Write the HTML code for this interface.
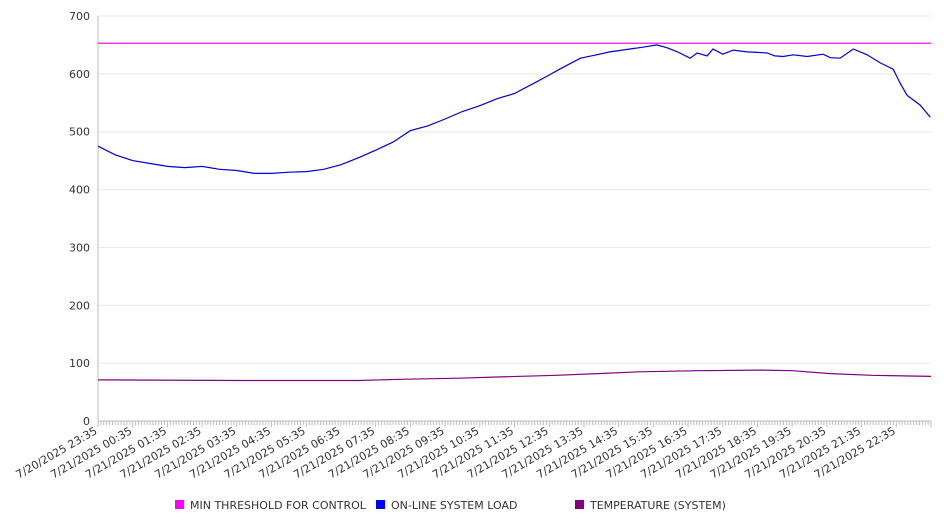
<!DOCTYPE html>
<html><head><meta charset="utf-8"><style>
body{margin:0;background:#fff;font-family:"DejaVu Sans","Liberation Sans",sans-serif}
svg text{font-family:"DejaVu Sans","Liberation Sans",sans-serif;font-size:11px;fill:#333}
</style></head><body>
<svg id="chart" width="946" height="526" xmlns="http://www.w3.org/2000/svg"></svg>
<script>
const yTicks=[0,100,200,300,400,500,600,700];
const xLabels=["7/20/2025 23:35","7/21/2025 00:35","7/21/2025 01:35","7/21/2025 02:35","7/21/2025 03:35","7/21/2025 04:35","7/21/2025 05:35","7/21/2025 06:35","7/21/2025 07:35","7/21/2025 08:35","7/21/2025 09:35","7/21/2025 10:35","7/21/2025 11:35","7/21/2025 12:35","7/21/2025 13:35","7/21/2025 14:35","7/21/2025 15:35","7/21/2025 16:35","7/21/2025 17:35","7/21/2025 18:35","7/21/2025 19:35","7/21/2025 20:35","7/21/2025 21:35","7/21/2025 22:35"];
const threshold=653;
// time in hours since 7/20 23:35
const loadHours=[0,0.5,1,1.5,2,2.5,3,3.5,4,4.5,5,5.5,6,6.5,7,7.5,8,8.5,9,9.5,10,10.5,11,11.5,12,12.5,13,13.3,13.9,14.3,14.75,15.2,15.7,16.1,16.4,16.7,17.06,17.26,17.55,17.72,18.0,18.3,18.7,19.0,19.28,19.5,19.74,20.03,20.43,20.89,21.1,21.38,21.76,22.16,22.54,22.91,23.11,23.31,23.69,23.98];
const loadValues=[475,460,450,445,440,438,440,435,433,428,428,430,431,435,443,455,468,482,502,510,522,535,545,557,566,582,598,608,627,632,638,642,646,650,645,638,627,636,631,643,634,641,638,637,636,631,630,633,630,634,628,627,643,633,619,608,584,563,546,525];
const tempHours=[0,4.1,7.5,8.7,10.4,11.5,13.2,14.4,15.6,17.3,19.1,20.0,21.1,22.3,24];
const tempValues=[71,70,70,72,74,76,79,82,85,87,88,87,82,79,77];
const x0=98,x1=931,yT=16,yB=421;
const X=h=>x0+h*(x1-x0)/24;
const Y=v=>yB-v*(yB-yT)/700;
const svg=document.getElementById('chart');
const NS='http://www.w3.org/2000/svg';
function mk(tag,attrs,parent){const e=document.createElementNS(NS,tag);for(const k in attrs)e.setAttribute(k,attrs[k]);(parent||svg).appendChild(e);return e;}
yTicks.forEach(v=>{
  const g=mk('line',{x1:x0,x2:x1,y1:Y(v),y2:Y(v),stroke:v===0?'#bbb':'#e8e8e8'});
  
  
  const t=mk('text',{x:90,y:Y(v)+4,'text-anchor':'end'});t.textContent=v;
  
  
});
const ax=mk('line',{x1:x0,x2:x0,y1:yT,y2:yB,stroke:'#bbb'});


for(let m=0;m<=288;m++){
  const x=X(m/12);
  const tk=mk('line',{x1:x,x2:x,y1:yB,y2:yB+(m%12===0?6:4),stroke:'#bbb'});
  
  
}
xLabels.forEach((l,i)=>{
  const x=X(i),y=yB+12;
  const t=mk('text',{x:x,y:y,'text-anchor':'end',transform:`rotate(-30 ${x} ${y})`});t.textContent=l;
  
  
});
const th=mk('line',{x1:x0,x2:x1,y1:Y(threshold),y2:Y(threshold),stroke:'#e000e0','stroke-width':1.2});


function line(hs,vs,col,name){
  const p=mk('path',{d:hs.map((h,i)=>(i?'L':'M')+X(h).toFixed(1)+','+Y(vs[i]).toFixed(1)).join(''),fill:'none',stroke:col,'stroke-width':1.2});
  
  
}
line(loadHours,loadValues,'#0000dd','online-load-line');
line(tempHours,tempValues,'#800080','temperature-line');
const leg=[['MIN THRESHOLD FOR CONTROL','#ff00ff',175],['ON-LINE SYSTEM LOAD','#0000ff',376],['TEMPERATURE (SYSTEM)','#800080',575]];
leg.forEach(([l,c,x])=>{
  const r=mk('rect',{x:x,y:500,width:9,height:9,fill:c});
  
  
  const t=mk('text',{x:x+15,y:509});t.textContent=l;
  
  
});
</script>
</body></html>
